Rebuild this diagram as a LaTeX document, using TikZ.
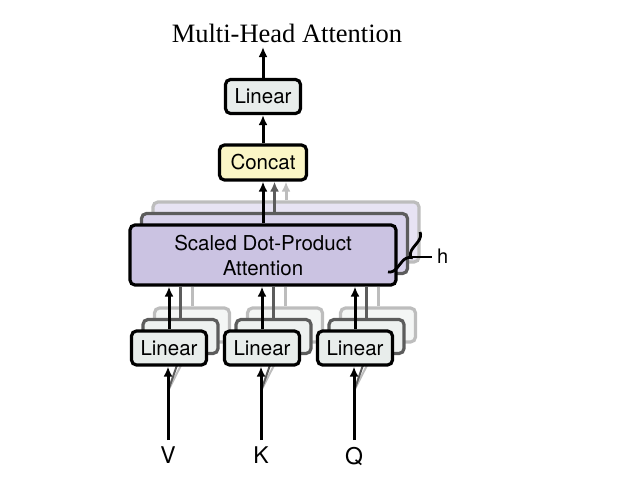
\documentclass[tikz,border=0pt]{standalone}
\usepackage{fontspec}
\setmainfont{Liberation Serif}
\setsansfont{TeX Gyre Heros}
\usetikzlibrary{arrows.meta,decorations.pathreplacing}

\definecolor{linfill}{HTML}{E8EDEB}
\definecolor{catfill}{HTML}{FBF6C6}
\definecolor{attfill}{HTML}{CBC3E2}
\definecolor{attfillB}{HTML}{D8D2EB}
\definecolor{attfillC}{HTML}{E7E3F3}
\definecolor{linfillB}{HTML}{EEF1F0}
\definecolor{linfillC}{HTML}{F4F6F5}
\definecolor{edgeB}{HTML}{5C5C5C}
\definecolor{edgeC}{HTML}{BDBDBD}

\begin{document}
\begin{tikzpicture}[x=1pt,y=-1pt,
  box/.style={draw, line width=3.2pt, rounded corners=5pt, inner sep=0pt,
    align=center, font=\sffamily\fontsize{20.5}{25}\selectfont},
  linbox/.style={box, fill=linfill, minimum width=75pt, minimum height=34pt},
  catbox/.style={box, fill=catfill, minimum width=87pt, minimum height=35pt},
  attbox/.style={box, fill=attfill, minimum width=266pt, minimum height=60pt},
  backB/.style={draw=edgeB},
  backC/.style={draw=edgeC},
  arr/.style={line width=3pt, -{Latex[length=10pt,width=9pt]}},
  arrB/.style={arr, draw=edgeB},
  arrC/.style={arr, draw=edgeC},
  wire/.style={line width=3pt},
  lbl/.style={font=\sffamily\fontsize{23}{25}\selectfont, inner sep=0pt, anchor=north}
]
\useasboundingbox (0,0) rectangle (630,482);

% title
\node[font=\fontsize{26.5}{30}\selectfont, inner sep=0pt] (title) at (287,33) {Multi-Head Attention};
\coordinate (out) at (263,47);

% output linear and concat
\node[linbox] (lin) at (263,96.5) {Linear};
\node[catbox] (concat) at (263,162.5) {Concat};

% stacked attention heads
\node[attbox, fill=attfillC, backC] (attC) at (286,232) {};
\node[attbox, fill=attfillB, backB] (attB) at (274.5,243.5) {};
\node[attbox] (att) at (263,255) {Scaled Dot-Product\\Attention};

\draw[arrC] (attC.north) -- (attC.north |- concat.south);
\draw[arrB] (attB.north) -- (attB.north |- concat.south);
\draw[arr] (att.north) -- (att.north |- concat.south);
\draw[arr] (concat.north) -- (lin.south);
\draw[arr] (lin.north) -- (out);

% head count brace
\coordinate (brA) at (420,232);
\coordinate (brB) at (388,272);
\coordinate (brTip) at (411,257);
\draw[decorate, decoration={brace, amplitude=9pt}, line width=2.8pt] (brA) -- (brB);
\node[font=\sffamily\fontsize{20}{22}\selectfont, inner sep=0pt, anchor=west] (h) at (437,256) {h};
\draw[line width=1.8pt] (brTip) -- ([xshift=-5pt]h.west |- brTip);

% input projections
\foreach \nm/\xx/\inp in {V/169/V, K/262/K, Q/355/Q}{
  \node[lbl] (in\nm) at (\xx-1,447) {\inp};
  \node[linbox, fill=linfillC, backC] (lin\nm C) at (\xx+23,325) {};
  \node[linbox, fill=linfillB, backB] (lin\nm B) at (\xx+11.5,336.5) {};
  \draw[wire, draw=edgeC] (lin\nm C.north) -- (lin\nm C.north |- att.south);
  \draw[wire, draw=edgeB] (lin\nm B.north) -- (lin\nm B.north |- att.south);
  \draw[line width=2pt, draw=edgeC] ([yshift=56pt]in\nm.north) -- (lin\nm C.south);
  \draw[line width=2pt, draw=edgeB] ([yshift=56pt]in\nm.north) -- (lin\nm B.south);
  \node[linbox] (lin\nm) at (\xx,348) {Linear};
  \draw[arr] (lin\nm.north) -- (lin\nm.north |- att.south);
  \draw[arr] ([yshift=7pt]in\nm.north) -- (in\nm.north |- lin\nm.south);
}
\end{tikzpicture}
\end{document}
